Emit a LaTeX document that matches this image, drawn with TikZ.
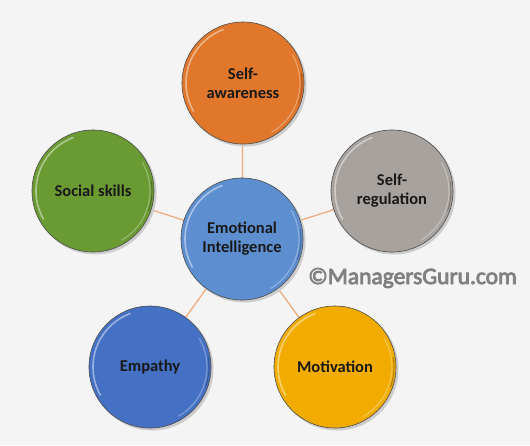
\documentclass[tikz,border=0pt]{standalone}
\usepackage{fontspec}
\setmainfont{Carlito}
\begin{document}
\begin{tikzpicture}[x=1pt,y=-1pt,
  bubble/.style={circle, minimum size=122pt, inner sep=0pt, draw=black!70, line width=0.6pt,
    font=\bfseries\fontsize{16.5}{19}\selectfont, text=black!90, align=center},
  link/.style={draw=linkc, line width=1.2pt}]
\definecolor{bgc}{HTML}{F4F4F4}
\definecolor{linkc}{HTML}{EFA97A}
\definecolor{orangec}{HTML}{E0772A}
\definecolor{bluec}{HTML}{5D8FD0}
\definecolor{grayc}{HTML}{A7A29E}
\definecolor{greenc}{HTML}{6A9A32}
\definecolor{empc}{HTML}{4571C4}
\definecolor{yelc}{HTML}{F2AC00}
\fill[bgc] (0,0) rectangle (530,445);
\useasboundingbox (0,0) rectangle (530,445);
\coordinate (pc) at (242,239);
\coordinate (pa) at (243,83);
\coordinate (pr) at (392,191);
\coordinate (ps) at (93,191);
\coordinate (pe) at (150,367);
\coordinate (pm) at (335,367);
\draw[link] (pc) -- (pa);
\draw[link] (pc) -- (pr);
\draw[link] (pc) -- (ps);
\draw[link] (pc) -- (pe);
\draw[link] (pc) -- (pm);
\foreach \p in {pc,pa,pr,ps,pe,pm}{
  \fill[black!20] ([shift={(2,2)}]\p) circle (61.5);
}
\node[bubble, fill=bluec] (c) at (pc) {Emotional\\Intelligence};
\node[bubble, fill=orangec] (a) at (pa) {Self-\\awareness};
\node[bubble, fill=grayc] (r) at (pr) {Self-\\regulation};
\node[bubble, fill=greenc] (s) at (ps) {Social skills};
\node[bubble, fill=empc] (e) at (pe) {Empathy};
\node[bubble, fill=yelc] (m) at (pm) {Motivation};
\foreach \p in {pc,pa,pr,ps,pe,pm}{
  \draw[white, opacity=0.45, line width=1.6pt] ([shift={(150:57)}]\p) arc (150:250:57);
  \draw[white, opacity=0.3, line width=1.2pt] ([shift={(-30:57)}]\p) arc (-30:60:57);
  \draw[black, opacity=0.25, line width=1pt] ([shift={(20:59)}]\p) arc (20:-10:59);
}
\node[font=\fontsize{23.5}{26}\selectfont, anchor=west, inner sep=0pt] (wm) at (308,278)
  {\special{pdf:literal direct 2 Tr 0.8 w 0.22 0.22 0.22 RG}%
   \textcolor{black!50}{©ManagersGuru.com}%
   \special{pdf:literal direct 0 Tr 0 0 0 RG}};
\end{tikzpicture}
\end{document}
